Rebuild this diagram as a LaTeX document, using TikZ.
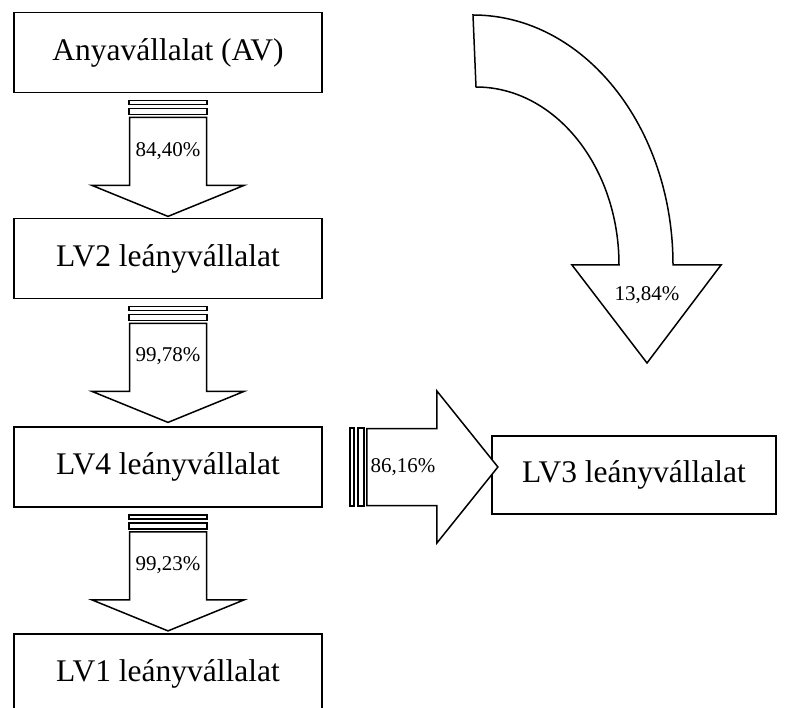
\documentclass[tikz,border=0pt]{standalone}
\usepackage{fontspec}
\setmainfont{Liberation Serif}
\usetikzlibrary{calc}

\tikzset{
  box/.style={draw, line width=1.8pt, fill=white, minimum width=308pt,
    minimum height=80pt, inner sep=0pt,
    font=\fontsize{31.5}{36}\selectfont},
  arrowline/.style={draw, line width=1.5pt, fill=white, line join=miter},
  pct/.style={inner sep=0pt, font=\fontsize{21}{24}\selectfont},
  % striped block arrow pointing down (local y grows downwards)
  pics/striparrow/.style 2 args={code={
    \draw[arrowline] (-39,0) rectangle (39,4);
    \draw[arrowline] (-39,8) rectangle (39,14);
    \draw[arrowline] (-38.5,17) -- (-38.5,#1) -- (-76,#1) -- (0,#2)
      -- (76,#1) -- (38.5,#1) -- (38.5,17) -- cycle;
  }}
}

\begin{document}
\begin{tikzpicture}[x=1pt, y=-1pt]
  \useasboundingbox (0,0) rectangle (792,708);
  \clip (0,0) rectangle (792,708);

  % company boxes
  \node[box] (av)  at (168,52.5)  {Anyavállalat (AV)};
  \node[box] (lv2) at (168,258.5) {LV2 leányvállalat};
  \node[box] (lv4) at (168,467)   {LV4 leányvállalat};
  \node[box] (lv1) at (168,674)   {LV1 leányvállalat};
  \node[box, minimum width=284pt, minimum height=78pt] (lv3) at (634,475) {LV3 leányvállalat};

  % ownership arrows down the chain
  \pic at ($(av.south)+(0,7)$)  {striparrow={85}{116}};
  \pic at ($(lv2.south)+(0,7)$) {striparrow={85}{116}};
  \pic at ($(lv4.south)+(0,7)$) {striparrow={85}{116}};
  \node[pct] (p1) at ($(av.south)+(0,58)$)  {84,40\%};
  \node[pct] (p2) at ($(lv2.south)+(0,57)$) {99,78\%};
  \node[pct] (p3) at ($(lv4.south)+(0,57)$) {99,23\%};

  % LV4 -> LV3
  \pic[rotate=90] at ($(lv4.east)+(27,0)$) {striparrow={87}{148}};
  \node[pct] (p4) at ($(lv4.east)+(80,0)$) {86,16\%};

  % AV -> LV3 curved arrow
  \draw[arrowline] (473,15) .. controls (583.5,15) and (673,126.5) .. (673,265)
    -- (721,265) -- (647,363) -- (572,265) -- (619,265)
    .. controls (619,166.7) and (555,87) .. (476,87) -- cycle;
  \node[pct] (p5) at (647,295) {13,84\%};
\end{tikzpicture}
\end{document}
